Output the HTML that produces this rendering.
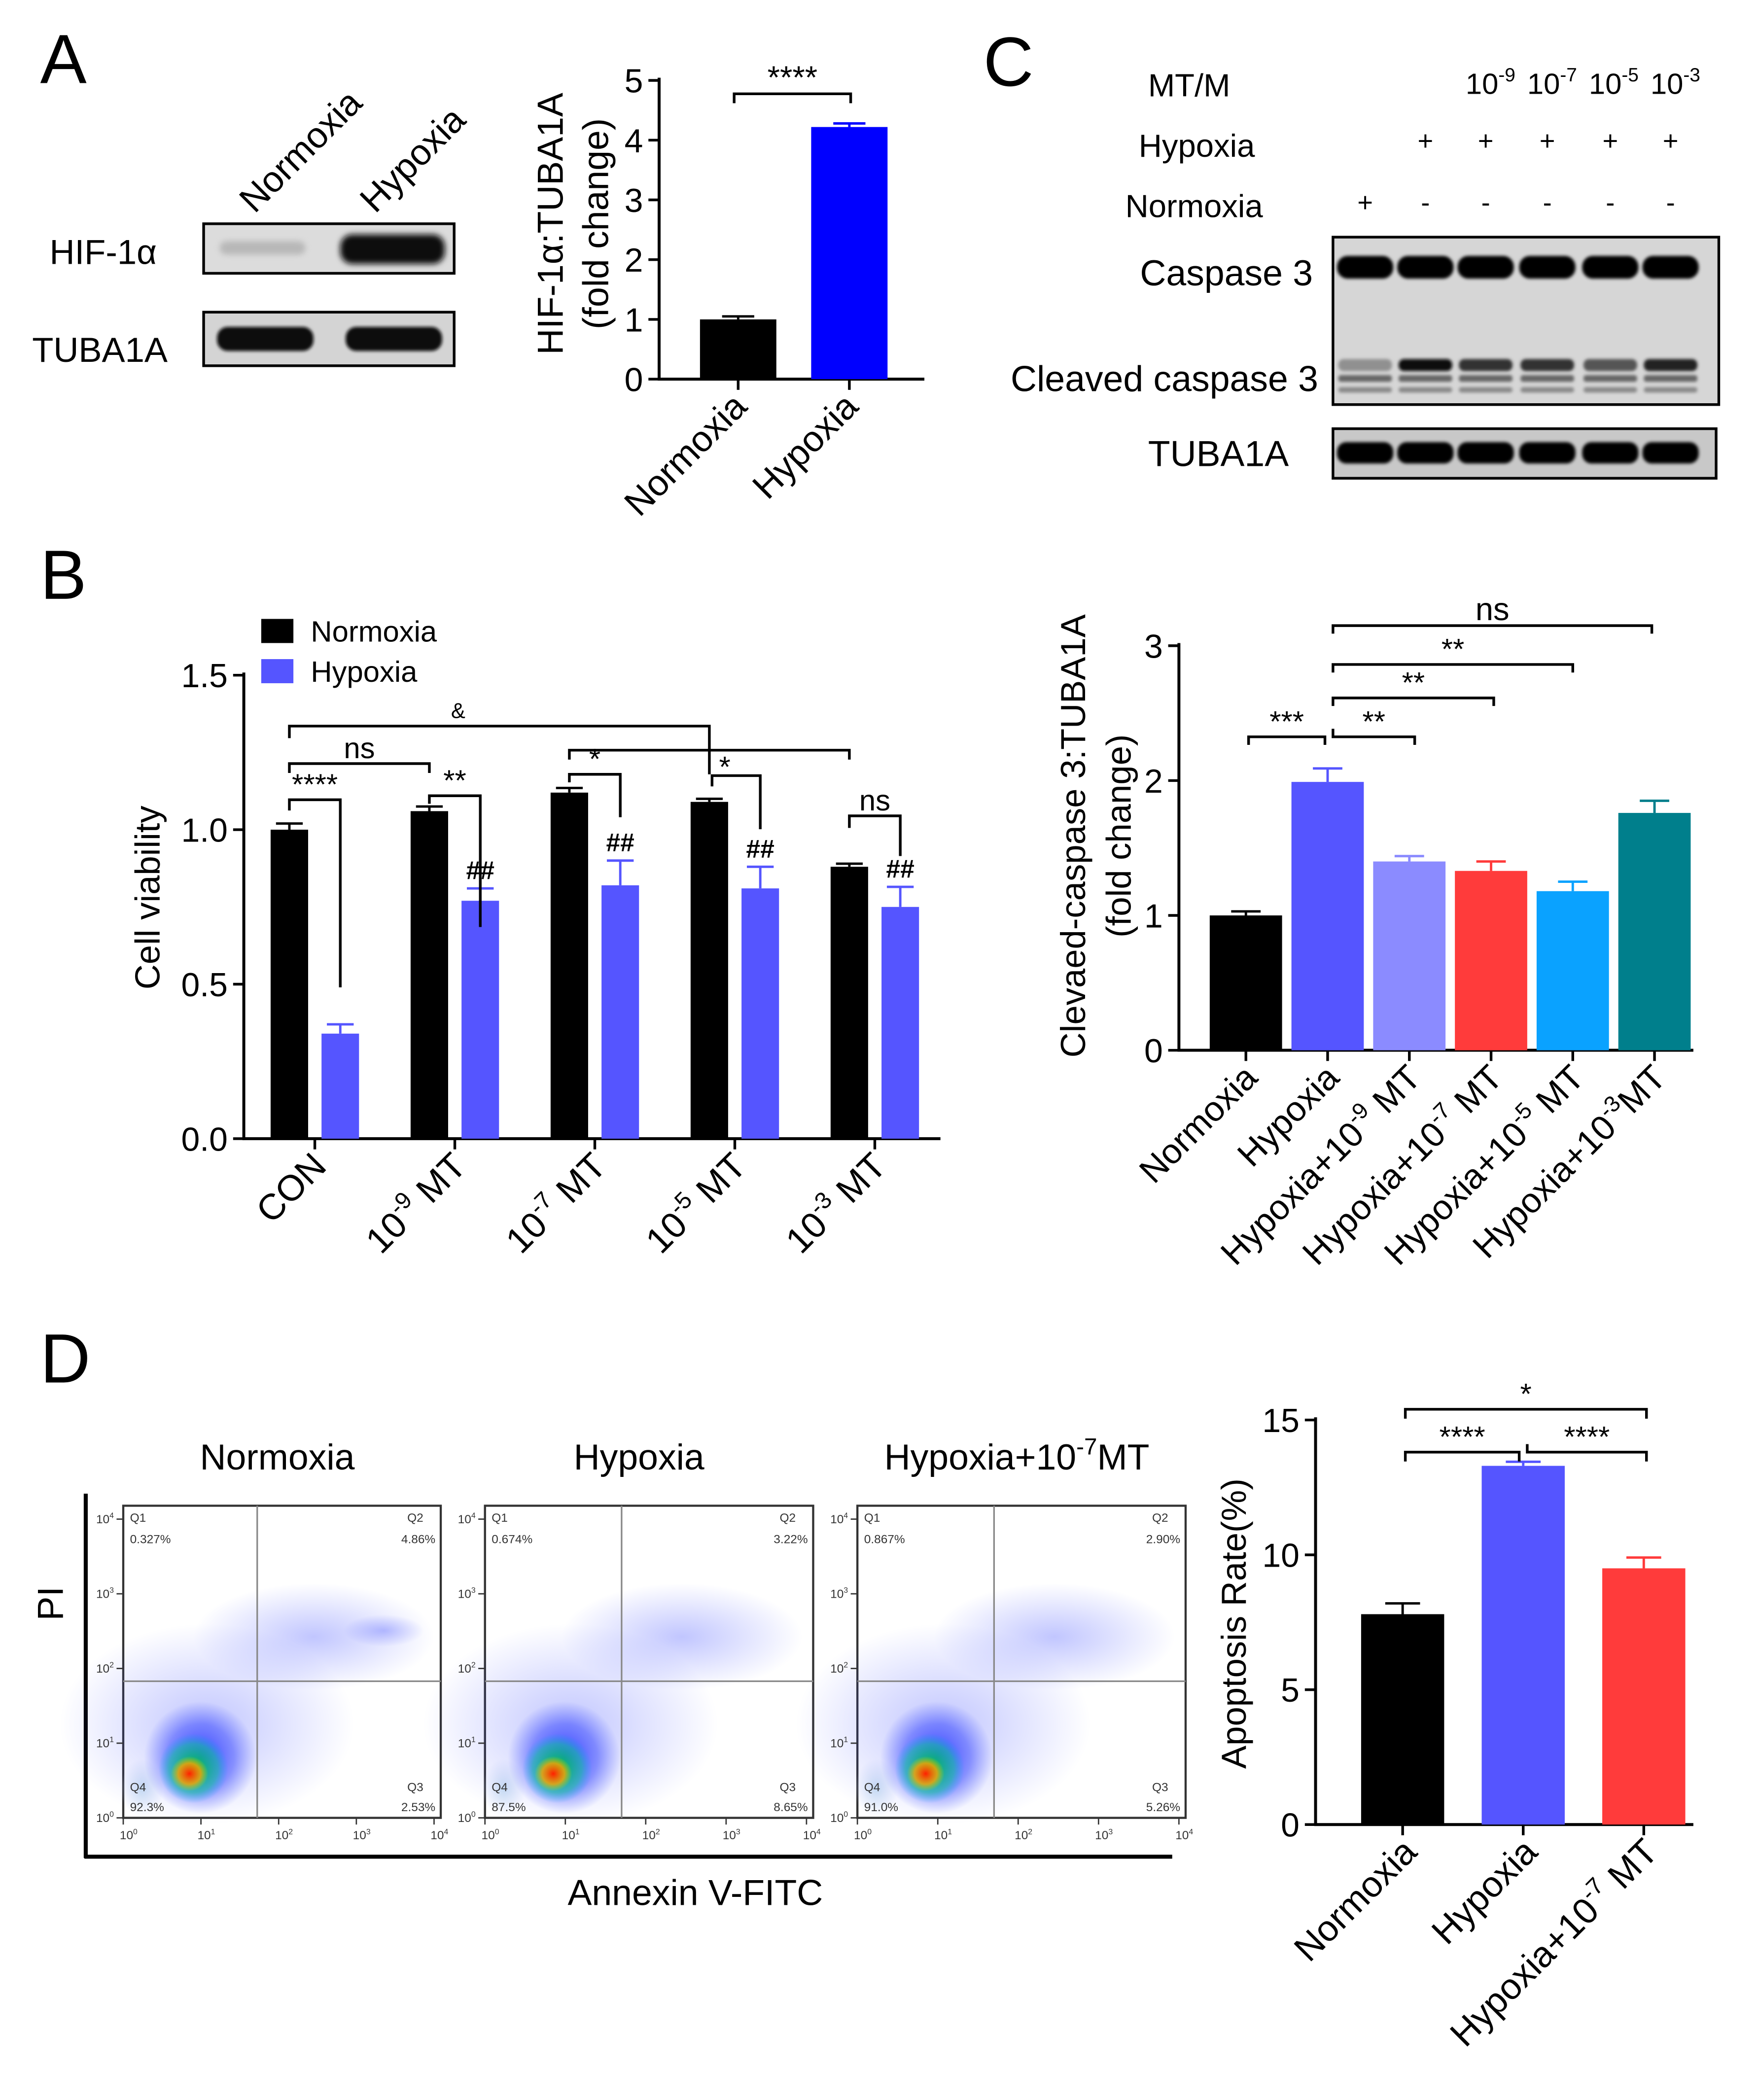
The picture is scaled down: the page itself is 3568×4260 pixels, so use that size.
<!DOCTYPE html>
<html><head><meta charset="utf-8">
<style>
html,body{margin:0;padding:0;background:#fff;}
svg{display:block;font-family:"Liberation Sans",Arial,sans-serif;}
</style></head>
<body>
<svg id="fig" xmlns="http://www.w3.org/2000/svg" width="3568" height="4260" viewBox="-2 -2 1313 1567.6">
<defs>
<filter id="blur2" x="-20%" y="-50%" width="140%" height="200%"><feGaussianBlur stdDeviation="2.2"/></filter>
<filter id="blur1" x="-20%" y="-50%" width="140%" height="200%"><feGaussianBlur stdDeviation="1.2"/></filter>
<radialGradient id="gBlue"><stop offset="0" stop-color="#2030ff" stop-opacity="0.9"/><stop offset="0.6" stop-color="#3040ff" stop-opacity="0.5"/><stop offset="1" stop-color="#4050ff" stop-opacity="0"/></radialGradient>
<radialGradient id="gGreen"><stop offset="0" stop-color="#00c040" stop-opacity="1"/><stop offset="0.7" stop-color="#10c0a0" stop-opacity="0.6"/><stop offset="1" stop-color="#10a0ff" stop-opacity="0"/></radialGradient>
<radialGradient id="gRed"><stop offset="0" stop-color="#ff2000" stop-opacity="1"/><stop offset="0.6" stop-color="#ffa000" stop-opacity="0.8"/><stop offset="1" stop-color="#c0e000" stop-opacity="0"/></radialGradient>
<radialGradient id="gPale"><stop offset="0" stop-color="#c8e0f0" stop-opacity="0.9"/><stop offset="1" stop-color="#d0dcf8" stop-opacity="0"/></radialGradient>
<radialGradient id="gScat"><stop offset="0" stop-color="#3040ff" stop-opacity="0.3"/><stop offset="1" stop-color="#3040ff" stop-opacity="0"/></radialGradient>
</defs>
</svg>
<script>
// ---------- data ----------
const aCats = ["Normoxia","Hypoxia"];
const aVals = [1.0, 4.22];
const aErr = [0.05, 0.06];
const aTicks = [0,1,2,3,4,5];

const bCats = ["CON","10^-9 MT","10^-7 MT","10^-5 MT","10^-3 MT"];
const bNorm = [1.0, 1.06, 1.12, 1.09, 0.88];
const bNormErr = [0.02, 0.015, 0.015, 0.01, 0.01];
const bHyp = [0.34, 0.77, 0.82, 0.81, 0.75];
const bHypErr = [0.03, 0.04, 0.08, 0.07, 0.065];
const bTicks = [0.0, 0.5, 1.0, 1.5];

const cCats = ["Normoxia","Hypoxia","Hypoxia+10^-9 MT","Hypoxia+10^-7 MT","Hypoxia+10^-5 MT","Hypoxia+10^-3MT"];
const cVals = [1.0, 1.99, 1.40, 1.33, 1.18, 1.76];
const cErr = [0.03, 0.10, 0.04, 0.07, 0.07, 0.09];
const cTicks = [0,1,2,3];

const dCats = ["Normoxia","Hypoxia","Hypoxia+10^-7 MT"];
const dVals = [7.8, 13.3, 9.5];
const dErr = [0.4, 0.15, 0.4];
const dTicks = [0,5,10,15];

const flowTitles = ["Normoxia","Hypoxia","Hypoxia+10^-7MT"];
const flowQ1 = ["0.327%","0.674%","0.867%"];
const flowQ2 = ["4.86%","3.22%","2.90%"];
const flowQ3 = ["2.53%","8.65%","5.26%"];
const flowQ4 = ["92.3%","87.5%","91.0%"];

// ---------- helpers ----------
const svg = document.getElementById('fig');
const NS = "http://www.w3.org/2000/svg";
function mk(tag, attrs, name, parent){
  const el = document.createElementNS(NS, tag);
  for (const k in attrs) el.setAttribute(k, attrs[k]);
  
  
  (parent||svg).appendChild(el);
  return el;
}
function txt(x,y,s,size,name,opts){
  opts = opts||{};
  const a = {x:x,y:y,'font-size':size,fill:opts.fill||'#000'};
  if (opts.anchor) a['text-anchor']=opts.anchor;
  if (opts.rot!==undefined) a.transform='rotate('+opts.rot+' '+x+' '+y+')';
  if (opts.weight) a['font-weight']=opts.weight;
  const t = mk('text', a, name);
  const m = s.match(/^(.*?)\^([-\d]+)(.*)$/);
  if (m){
    const t1=document.createElementNS(NS,'tspan'); t1.textContent=m[1]; t.appendChild(t1);
    const t2=document.createElementNS(NS,'tspan'); t2.textContent=m[2];
    t2.setAttribute('font-size', size*0.65); t2.setAttribute('dy', -size*0.42); t.appendChild(t2);
    const t3=document.createElementNS(NS,'tspan'); t3.textContent=m[3];
    t3.setAttribute('dy', size*0.42); t.appendChild(t3);
  } else t.textContent = s;
  return t;
}
function line(x1,y1,x2,y2,w,name,color){
  return mk('line',{x1:x1,y1:y1,x2:x2,y2:y2,stroke:color||'#000','stroke-width':w||2},name);
}
function bracket(x1,x2,y,d1,d2,label,name,size){
  mk('polyline',{points:x1+','+(y+d1)+' '+x1+','+y+' '+x2+','+y+' '+x2+','+(y+d2),fill:'none',stroke:'#000','stroke-width':2},name);
  if (label) txt((x1+x2)/2, y-4, label, size||22, name+'-label', {anchor:'middle'});
}

function barChart(cfg){
  const ys = v => cfg.y0 - (v - cfg.min)/(cfg.max-cfg.min)*(cfg.y0-cfg.y1);
  line(cfg.x0, cfg.y1-2, cfg.x0, cfg.y0+1, 2.2, cfg.id+'-y-axis');
  line(cfg.x0-1, cfg.y0, cfg.xEnd, cfg.y0, 2.2, cfg.id+'-x-axis');
  cfg.ticks.forEach(t=>{
    const y = ys(t);
    line(cfg.x0-8, y, cfg.x0, y, 2, cfg.id+'-y-tick');
    txt(cfg.x0-12, y+9, cfg.fmt(t), cfg.tickSize, cfg.id+'-y-tick-label', {anchor:'end'});
  });
  cfg.series.forEach(s=>{
    s.vals.forEach((v,i)=>{
      const cx = cfg.cx(i) + (s.off||0);
      const x = cx - cfg.bw/2, y = ys(v);
      mk('rect',{x:x,y:y,width:cfg.bw,height:cfg.y0-y,fill:s.colors[i]},cfg.id+'-bar-'+i+(s.tag||''));
      const ye = ys(v + s.err[i]);
      line(cx, y, cx, ye, 1.8, cfg.id+'-error-bar', s.colors[i]);
      line(cx-cfg.cap, ye, cx+cfg.cap, ye, 1.8, cfg.id+'-error-cap', s.colors[i]);
    });
  });
  cfg.cats.forEach((c,i)=>{
    const cx = cfg.cx(i);
    line(cx, cfg.y0, cx, cfg.y0+8, 2, cfg.id+'-x-tick');
    txt(cx+cfg.lblDx, cfg.y0+cfg.lblDy, c, cfg.lblSize, cfg.id+'-x-label', {anchor:'end', rot:-45});
  });
  return ys;
}

// ---------- Panel A ----------
txt(28, 60, "A", 52, 'panel-a-label');
txt(188, 158, "Normoxia", 27, 'blot-a-normoxia', {rot:-45});
txt(278, 158, "Hypoxia", 27, 'blot-a-hypoxia', {rot:-45});
txt(35, 195, "HIF-1α", 26, 'hif-label');
txt(22, 268, "TUBA1A", 26, 'tuba-a-label');
mk('rect',{x:150,y:165,width:187,height:37,fill:'#dcdcdc',stroke:'#000','stroke-width':2},'hif-blot');
mk('rect',{x:162,y:178,width:64,height:10,rx:5,fill:'#b8b8b8',filter:'url(#blur2)'},'hif-band-normoxia');
mk('rect',{x:252,y:173,width:78,height:22,rx:9,fill:'#111',filter:'url(#blur2)'},'hif-band-hypoxia');
mk('rect',{x:150,y:231,width:187,height:40,fill:'#d4d4d4',stroke:'#000','stroke-width':2},'tuba-a-blot');
mk('rect',{x:160,y:242,width:72,height:18,rx:8,fill:'#111',filter:'url(#blur1)'},'tuba-band-1');
mk('rect',{x:256,y:242,width:72,height:18,rx:8,fill:'#111',filter:'url(#blur1)'},'tuba-band-2');

const aCx = [549, 632];
barChart({id:'a', x0:490, xEnd:688, y0:281, y1:58, min:0, max:5, ticks:aTicks, fmt:t=>String(t),
  tickSize:25, bw:57, cap:12, cats:aCats, cx:i=>aCx[i], lblDx:8, lblDy:22, lblSize:27,
  series:[{vals:aVals, err:aErr, colors:['#000','#0000ff']}]});
txt(418, 165, "HIF-1α:TUBA1A", 27, 'a-y-title', {anchor:'middle', rot:-90});
txt(452, 165, "(fold change)", 27, 'a-y-title-2', {anchor:'middle', rot:-90});
bracket(546, 633, 68, 7, 7, "****", 'a-sig-bracket', 24);

// ---------- Panel B ----------
txt(28, 445, "B", 52, 'panel-b-label');
mk('rect',{x:193,y:460,width:24,height:18,fill:'#000'},'legend-normoxia-swatch');
txt(230, 477, "Normoxia", 22, 'legend-normoxia');
mk('rect',{x:193,y:490,width:24,height:18,fill:'#5555ff'},'legend-hypoxia-swatch');
txt(230, 507, "Hypoxia", 22, 'legend-hypoxia');
const bGroup = i => 233 + i*104.5;
const ysB = barChart({id:'b', x0:180, xEnd:700, y0:848, y1:502, min:0, max:1.5, ticks:bTicks, fmt:t=>t.toFixed(1),
  tickSize:25, bw:28, cap:10, cats:bCats, cx:bGroup, lblDx:10, lblDy:22, lblSize:27,
  series:[{vals:bNorm, err:bNormErr, colors:bNorm.map(()=> '#000'), off:-19, tag:'-normoxia'},
          {vals:bHyp, err:bHypErr, colors:bHyp.map(()=> '#5555ff'), off:19, tag:'-hypoxia'}]});
txt(117, 668, "Cell viability", 26, 'b-y-title', {anchor:'middle', rot:-90});
bracket(bGroup(0)-19, bGroup(3)-19, 540, 9, 36, null, 'b-bracket-amp');
txt(340, 534, "&", 16, 'b-amp-label', {anchor:'middle'});
bracket(bGroup(0)-19, bGroup(1)-19, 568, 7, 7, "ns", 'b-bracket-ns1', 22);
bracket(bGroup(2)-19, bGroup(4)-19, 558, 7, 7, null, 'b-bracket-star-wide');
txt(539, 578, "*", 22, 'b-star-wide-label', {anchor:'middle'});
bracket(bGroup(0)-19, bGroup(0)+19, 595, 8, 140, "****", 'b-bracket-con', 22);
bracket(bGroup(1)-19, bGroup(1)+19, 592, 6, 98, "**", 'b-bracket-9', 22);
bracket(bGroup(2)-19, bGroup(2)+19, 576, 6, 32, "*", 'b-bracket-7', 22);
bracket(bGroup(3)-19+2, bGroup(3)+19, 577, 8, 40, null, 'b-bracket-5');
bracket(bGroup(4)-19, bGroup(4)+19, 607, 9, 30, "ns", 'b-bracket-3', 22);
bHyp.forEach((v,i)=>{ if(i>0) txt(bGroup(i)+19, ysB(v+bHypErr[i])-7, "##", 19, 'b-hash-label', {anchor:'middle', weight:'bold'}); });

// ---------- Panel C blot ----------
txt(732, 62, "C", 52, 'panel-c-label');
txt(855, 70, "MT/M", 24, 'c-mt-label');
["10^-9","10^-7","10^-5","10^-3"].forEach((s,i)=> txt(1092+i*46, 68, s, 22, 'c-conc-label'));
txt(848, 115, "Hypoxia", 24, 'c-hypoxia-label');
txt(838, 160, "Normoxia", 24, 'c-normoxia-label');
const laneX = [1017,1062,1107,1153,1200,1245];
laneX.forEach((x,i)=>{
  txt(x, 110, i===0?"":"+", 20, 'c-hypoxia-mark', {anchor:'middle'});
  txt(x, 156, i===0?"+":"-", 20, 'c-normoxia-mark', {anchor:'middle'});
});
txt(978, 211, "Caspase 3", 27, 'caspase3-label', {anchor:'end'});
txt(982, 290, "Cleaved caspase 3", 27, 'cleaved-caspase3-label', {anchor:'end'});
txt(960, 346, "TUBA1A", 27, 'tuba-c-label', {anchor:'end'});
mk('rect',{x:993,y:175,width:288,height:125,fill:'#d6d6d6',stroke:'#000','stroke-width':2},'caspase-blot');
const cleavedInt = ['#909090','#111','#333','#333','#555','#222'];
laneX.forEach((x,i)=>{
  mk('rect',{x:x-21,y:189,width:42,height:17,rx:8,fill:'#000',filter:'url(#blur1)'},'caspase3-band');
  mk('rect',{x:x-20,y:266,width:40,height:9,rx:4,fill:cleavedInt[i],filter:'url(#blur1)'},'cleaved-band');
  mk('rect',{x:x-20,y:278,width:40,height:5,rx:2,fill:'#666',filter:'url(#blur1)'},'cleaved-band-lower');
  mk('rect',{x:x-20,y:287,width:40,height:4,rx:2,fill:'#888',filter:'url(#blur1)'},'cleaved-band-lowest');
});
mk('rect',{x:993,y:318,width:286,height:37,fill:'#c8c8c8',stroke:'#000','stroke-width':2},'tuba-c-blot');
laneX.forEach(x=> mk('rect',{x:x-21,y:328,width:42,height:16,rx:7,fill:'#000',filter:'url(#blur1)'},'tuba-c-band'));

// ---------- Panel C chart ----------
const cCx = i => 928 + i*61;
const cColors = ['#000','#5555ff','#8b8bff','#ff3b3b','#0aa2ff','#007f8c'];
barChart({id:'c', x0:878, xEnd:1262, y0:782, y1:480, min:0, max:3, ticks:cTicks, fmt:t=>String(t),
  tickSize:25, bw:54, cap:11, cats:cCats, cx:cCx, lblDx:10, lblDy:22, lblSize:26,
  series:[{vals:cVals, err:cErr, colors:cColors}]});
txt(808, 622, "Clevaed-caspase 3:TUBA1A", 26, 'c-y-title', {anchor:'middle', rot:-90});
txt(842, 622, "(fold change)", 26, 'c-y-title-2', {anchor:'middle', rot:-90});
bracket(cCx(0)+2, cCx(1)-2, 548, 6, 6, "***", 'c-bracket-1', 22);
bracket(cCx(1)+4, cCx(2)+4, 548, -6, 6, "**", 'c-bracket-2', 22);
bracket(cCx(1)+4, cCx(3)+2, 519, 6, 6, "**", 'c-bracket-3', 22);
bracket(cCx(1)+4, cCx(4), 494, 6, 6, "**", 'c-bracket-4', 22);
bracket(cCx(1)+4, cCx(5)-2, 465, 6, 6, "ns", 'c-bracket-5', 24);

// ---------- Panel D flow ----------
txt(28, 1030, "D", 52, 'panel-d-label');
const flowX = [90, 360, 638];
const flowW = [237, 245, 245];
const qV = [100, 102, 102];
const titleX = [205, 475, 757];
flowTitles.forEach((t,i)=> txt(titleX[i], 1095, t, 27, 'flow-title', {anchor:'middle'}));
line(62, 1113, 62, 1385, 3, 'flow-frame-left');
line(61, 1384, 873, 1384, 3, 'flow-frame-bottom');
flowX.forEach((x0,i)=>{
  const w = flowW[i], y0 = 1122, h = 233;
  const g = mk('g',{},'flow-plot-'+i);
  mk('rect',{x:x0,y:y0,width:w,height:h,fill:'#fff',stroke:'#333','stroke-width':1.6},'flow-box', g);
  const bx = x0 + w*0.2, by = y0 + h*0.85;
  mk('ellipse',{cx:x0+14,cy:y0+h-22,rx:16,ry:22,fill:'url(#gPale)'},'flow-pale', g);
  mk('ellipse',{cx:bx+15,cy:y0+h-70,rx:110,ry:75,fill:'url(#gScat)'},'flow-scatter-halo', g);
  mk('ellipse',{cx:bx+10,cy:by-10,rx:42,ry:42,fill:'url(#gBlue)'},'flow-blue', g);
  mk('ellipse',{cx:bx+5,cy:by-2,rx:26,ry:26,fill:'url(#gGreen)'},'flow-green', g);
  mk('ellipse',{cx:bx+2,cy:by+2,rx:14,ry:13,fill:'url(#gRed)'},'flow-red', g);
  if(i===0) mk('ellipse',{cx:x0+w*0.82,cy:y0+h*0.4,rx:30,ry:12,fill:'url(#gScat)'},'flow-q2-cluster', g);
  mk('ellipse',{cx:x0+w*0.6,cy:y0+h*0.42,rx:90,ry:40,fill:'url(#gScat)'},'flow-q2-scatter', g);
  const vx = x0 + qV[i], hy = y0 + 131;
  line(vx, y0, vx, y0+h, 1.2, 'quadrant-vertical', '#888');
  line(x0, hy, x0+w, hy, 1.2, 'quadrant-horizontal', '#888');
  txt(x0+5, y0+12, "Q1", 9, 'q1-label', {fill:'#333'});
  txt(x0+5, y0+28, flowQ1[i], 9, 'q1-value', {fill:'#333'});
  txt(x0+w-25, y0+12, "Q2", 9, 'q2-label', {fill:'#333'});
  txt(x0+w-4, y0+28, flowQ2[i], 9, 'q2-value', {fill:'#333',anchor:'end'});
  txt(x0+5, y0+h-20, "Q4", 9, 'q4-label', {fill:'#333'});
  txt(x0+5, y0+h-5, flowQ4[i], 9, 'q4-value', {fill:'#333'});
  txt(x0+w-25, y0+h-20, "Q3", 9, 'q3-label', {fill:'#333'});
  txt(x0+w-4, y0+h-5, flowQ3[i], 9, 'q3-value', {fill:'#333',anchor:'end'});
  for(let d=0; d<=4; d++){
    const yy = y0+h - d*(h-10)/4;
    line(x0-5, yy, x0, yy, 1, 'flow-y-tick', '#333');
    txt(x0-7, yy+3, "10^"+d, 9, 'flow-y-tick-label', {fill:'#333', anchor:'end'});
    const xx = x0 + d*(w-5)/4;
    line(xx, y0+h, xx, y0+h+5, 1, 'flow-x-tick', '#333');
    txt(xx+4, y0+h+16, "10^"+d, 9, 'flow-x-tick-label', {fill:'#333', anchor:'middle'});
  }
});
txt(45, 1195, "PI", 27, 'flow-y-title', {anchor:'middle', rot:-90});
txt(517, 1420, "Annexin V-FITC", 27, 'flow-x-title', {anchor:'middle'});

// ---------- Panel D chart ----------
const dCx = i => 1045 + i*90;
barChart({id:'d', x0:980, xEnd:1262, y0:1360, y1:1058, min:0, max:15, ticks:dTicks, fmt:t=>String(t),
  tickSize:25, bw:62, cap:13, cats:dCats, cx:dCx, lblDx:12, lblDy:22, lblSize:27,
  series:[{vals:dVals, err:dErr, colors:['#000','#5555ff','#ff3b3b']}]});
txt(928, 1210, "Apoptosis Rate(%)", 26, 'd-y-title', {anchor:'middle', rot:-90});
bracket(dCx(0)+2, dCx(1)-3, 1082, 7, 7, "****", 'd-bracket-1', 22);
bracket(dCx(1)+3, dCx(2)+2, 1082, -6, 7, "****", 'd-bracket-2', 22);
bracket(dCx(0)+2, dCx(2)+2, 1050, 7, 7, "*", 'd-bracket-3', 22);
</script>
</body></html>
